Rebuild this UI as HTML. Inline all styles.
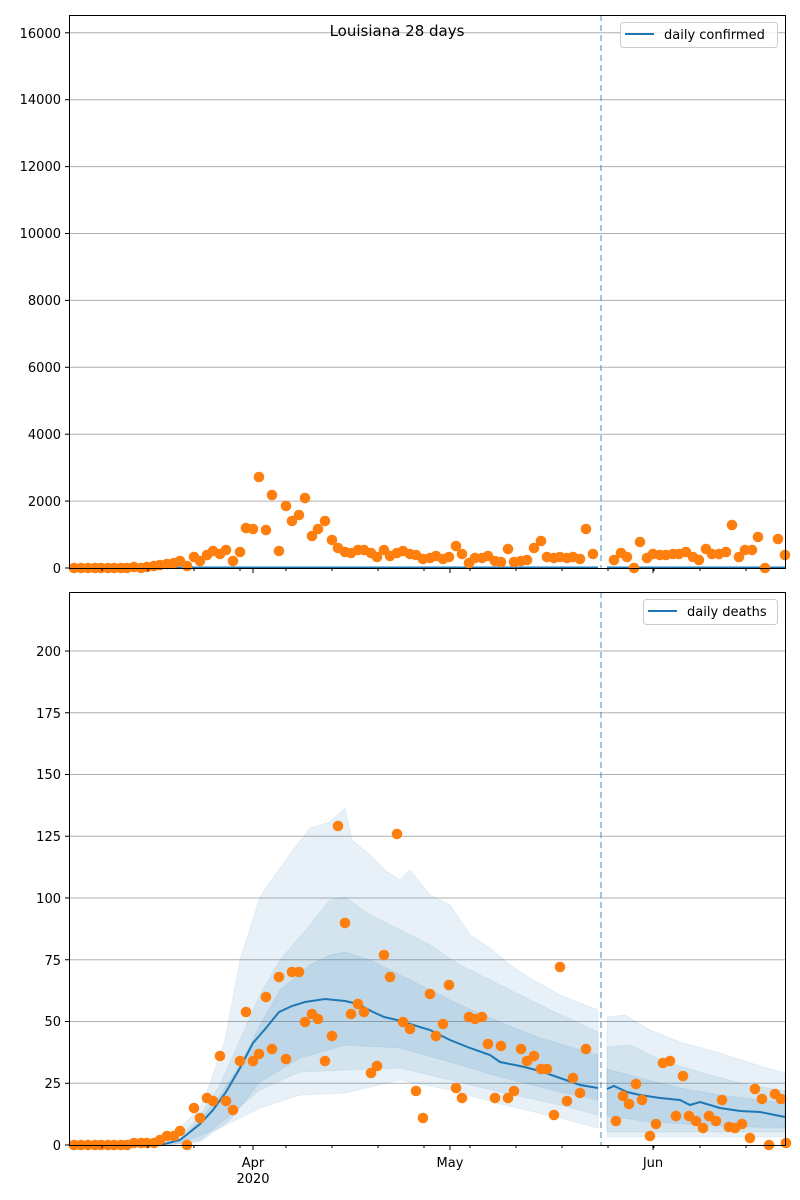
<!DOCTYPE html>
<html><head><meta charset="utf-8"><style>
body{margin:0;background:#fff}
svg{display:block;font-family:"DejaVu Sans","Liberation Sans",sans-serif}
</style></head><body>
<svg id="s" width="800" height="1200" viewBox="0 0 800 1200" xmlns="http://www.w3.org/2000/svg">
<rect width="800" height="1200" fill="#fff"/>
<g id="grid" stroke="#b0b0b0" stroke-width="1"></g>
<g id="bands"></g>
<g id="lines"></g>
<g id="dots" fill="#ff7f0e"></g>
<line x1="601" y1="15" x2="601" y2="568" stroke="#1f77b4" stroke-opacity="0.55" stroke-width="1.5" stroke-dasharray="6,4"/>
<line x1="601" y1="592" x2="601" y2="1145" stroke="#1f77b4" stroke-opacity="0.55" stroke-width="1.5" stroke-dasharray="6,4"/>
<g id="ticks" stroke="#000" stroke-width="1"></g>
<rect x="69.5" y="15.5" width="716" height="553" fill="none" stroke="#000" stroke-width="1"/>
<rect x="69.5" y="592.5" width="716" height="553" fill="none" stroke="#000" stroke-width="1"/>
<g font-size="13" fill="#000" text-anchor="end">
<text x="61" y="573">0</text><text x="61" y="506">2000</text><text x="61" y="439">4000</text><text x="61" y="372">6000</text><text x="61" y="305">8000</text><text x="61" y="238">10000</text><text x="61" y="171">12000</text><text x="61" y="104">14000</text><text x="61" y="38">16000</text>
<text x="61" y="1150">0</text><text x="61" y="1088">25</text><text x="61" y="1026">50</text><text x="61" y="965">75</text><text x="61" y="903">100</text><text x="61" y="841">125</text><text x="61" y="779">150</text><text x="61" y="718">175</text><text x="61" y="656">200</text>
</g>
<g font-size="13" fill="#000" text-anchor="middle">
<text x="253" y="1167">Apr</text><text x="253" y="1183">2020</text>
<text x="450" y="1167">May</text><text x="653" y="1167">Jun</text>
<text x="397" y="36" font-size="15">Louisiana 28 days</text>
</g>
<rect x="620.5" y="22.5" width="157" height="25" rx="3" fill="#fff" fill-opacity="0.8" stroke="#ccc"/>
<line x1="625" y1="34" x2="654" y2="34" stroke="#1f77b4" stroke-width="2"/>
<text x="664" y="39" font-size="13">daily confirmed</text>
<rect x="643.5" y="599.5" width="134" height="25" rx="3" fill="#fff" fill-opacity="0.8" stroke="#ccc"/>
<line x1="648" y1="611" x2="677" y2="611" stroke="#1f77b4" stroke-width="2"/>
<text x="687" y="616" font-size="13">daily deaths</text>
</svg>
<script>
(function(){
var NS="http://www.w3.org/2000/svg";
function el(p,t,a){var e=document.createElementNS(NS,t);for(var k in a)e.setAttribute(k,a[k]);document.getElementById(p).appendChild(e);return e;}
for(var i=1;i<=8;i++){var y=568-i*66.9;el("grid","line",{x1:69,x2:785,y1:y,y2:y});}
for(var i=1;i<=8;i++){var y=1145-i*61.75;el("grid","line",{x1:69,x2:785,y1:y,y2:y});}
for(var i=0;i<=8;i++){var y=568-i*66.9;el("ticks","line",{x1:65,x2:69,y1:y,y2:y});y=1145-i*61.75;el("ticks","line",{x1:65,x2:69,y1:y,y2:y});}
[102,148,194,240,286,332,378,424,470,516,562,608,654,700,746].forEach(function(x){el("ticks","line",{x1:x,x2:x,y1:568,y2:571});el("ticks","line",{x1:x,x2:x,y1:1145,y2:1148});});
[253,450,653].forEach(function(x){el("ticks","line",{x1:x,x2:x,y1:568,y2:573});el("ticks","line",{x1:x,x2:x,y1:1145,y2:1150});});
function poly(pts){return pts.map(function(p){return p[0]+","+p[1]}).join(" ");}
function band(up,lo,op){el("bands","polygon",{points:poly(up.concat(lo.slice().reverse())),fill:"#1f77b4","fill-opacity":op,stroke:"#1f77b4","stroke-opacity":0.08});}
band([[69,1145],[150,1143],[180,1128],[200,1108],[210,1083],[225,1040],[240,960],[260,897],[275,875],[293,850],[310,828],[330,822],[345,808],[352,840],[370,855],[385,870],[400,880],[410,870],[430,895],[450,905],[470,935],[490,948],[510,965],[530,978],[560,995],[598,1010]],
 [[69,1145],[160,1145],[180,1143],[220,1128],[260,1108],[300,1095],[345,1093],[400,1080],[450,1090],[500,1104],[560,1118],[598,1128]],0.1);
band([[69,1145],[160,1145],[180,1138],[200,1115],[220,1085],[240,1040],[260,995],[280,960],[310,925],[330,900],[345,897],[370,915],[400,930],[430,945],[460,965],[500,985],[540,1005],[598,1032]],
 [[69,1145],[170,1145],[200,1140],[230,1115],[260,1090],[300,1072],[345,1070],[400,1068],[450,1080],[500,1092],[560,1105],[598,1115]],0.1);
band([[69,1145],[160,1145],[180,1140],[200,1120],[220,1095],[240,1065],[260,1025],[280,990],[310,965],[330,955],[345,952],[370,960],[400,975],[430,990],[460,1005],[500,1022],[540,1038],[598,1055]],
 [[69,1145],[170,1145],[200,1142],[230,1120],[260,1082],[300,1058],[345,1045],[400,1048],[450,1062],[500,1077],[560,1092],[598,1100]],0.12);
band([[607,1017],[625,1015],[650,1030],[680,1042],[720,1053],[760,1066],[785,1073]],[[607,1137],[785,1137]],0.1);
band([[607,1047],[630,1045],[660,1060],[700,1072],[740,1083],[785,1091]],[[607,1132],[785,1132]],0.1);
band([[607,1069],[640,1078],[680,1088],[720,1095],[760,1100],[785,1103]],[[607,1116],[650,1122],[720,1126],[785,1128]],0.12);
el("lines","polyline",{points:poly([[69,1145],[160,1145],[180,1140],[200,1124],[213,1110],[226,1092],[240,1068],[253,1043],[266,1028],[279,1012],[292,1006],[305,1002],[325,999],[345,1001],[358,1004],[371,1011],[384,1017],[397,1020],[410,1024],[430,1030],[450,1040],[470,1048],[490,1055],[500,1062],[520,1066],[540,1071],[560,1078],[580,1085],[598,1088]]),fill:"none",stroke:"#1f77b4","stroke-width":2});
el("lines","polyline",{points:poly([[607,1089],[614,1086],[627,1092],[640,1095],[660,1098],[680,1100],[690,1105],[700,1102],[720,1108],[740,1111],[760,1112],[785,1117]]),fill:"none",stroke:"#1f77b4","stroke-width":2});
el("lines","line",{x1:69,x2:598,y1:567.5,y2:567.5,stroke:"#1f77b4","stroke-width":2});
el("lines","line",{x1:607,x2:785,y1:567.5,y2:567.5,stroke:"#1f77b4","stroke-width":2});
var tp=[[74,568],[81,568],[88,568],[95,568],[101,568],[108,568],[114,568],[121,568],[127,568],[134,567],[141,568],[147,567],[154,566],[160,565],[167,564],[174,563],[180,561],[187,566],[194,557],[200,561],[207,555],[213,551],[220,554],[226,550],[233,561],[240,552],[246,528],[253,529],[259,477],[266,530],[272,495],[279,551],[286,506],[292,521],[299,515],[305,498],[312,536],[318,529],[325,521],[332,540],[338,548],[345,552],[351,553],[358,550],[364,550],[371,553],[377,557],[384,550],[390,556],[397,553],[403,551],[410,554],[416,555],[423,559],[430,558],[436,556],[443,559],[449,557],[456,546],[462,554],[469,563],[475,558],[482,558],[488,556],[495,561],[501,562],[508,549],[514,562],[521,561],[527,560],[534,548],[541,541],[547,557],[554,558],[560,557],[567,558],[573,557],[580,559],[586,529],[593,554],[614,560],[621,553],[627,557],[634,568],[640,542],[647,558],[653,554],[660,555],[666,555],[673,554],[679,554],[686,552],[693,557],[699,560],[706,549],[712,554],[719,554],[726,552],[732,525],[739,557],[745,550],[752,550],[758,537],[765,568],[778,539],[785,555]];
var bt=[[74,1145],[81,1145],[88,1145],[95,1145],[101,1145],[108,1145],[114,1145],[121,1145],[127,1145],[134,1143],[141,1143],[147,1143],[154,1143],[160,1140],[167,1136],[174,1136],[180,1131],[187,1145],[194,1108],[200,1118],[207,1098],[213,1101],[220,1056],[226,1101],[233,1110],[240,1061],[246,1012],[253,1061],[259,1054],[266,997],[272,1049],[279,977],[286,1059],[292,972],[299,972],[305,1022],[312,1014],[318,1019],[325,1061],[332,1036],[338,826],[345,923],[351,1014],[358,1004],[364,1012],[371,1073],[377,1066],[384,955],[390,977],[397,834],[403,1022],[410,1029],[416,1091],[423,1118],[430,994],[436,1036],[443,1024],[449,985],[456,1088],[462,1098],[469,1017],[475,1019],[482,1017],[488,1044],[495,1098],[501,1046],[508,1098],[514,1091],[521,1049],[527,1061],[534,1056],[541,1069],[547,1069],[554,1115],[560,967],[567,1101],[573,1078],[580,1093],[586,1049],[616,1121],[623,1096],[629,1104],[636,1084],[642,1100],[650,1136],[656,1124],[663,1063],[670,1061],[676,1116],[683,1076],[689,1116],[696,1121],[703,1128],[709,1116],[716,1121],[722,1100],[729,1127],[735,1128],[742,1124],[750,1138],[755,1089],[762,1099],[769,1145],[775,1094],[781,1099],[786,1143]];
tp.concat(bt).forEach(function(p){el("dots","circle",{cx:p[0],cy:p[1],r:5.3});});
})();
</script>
</body></html>
